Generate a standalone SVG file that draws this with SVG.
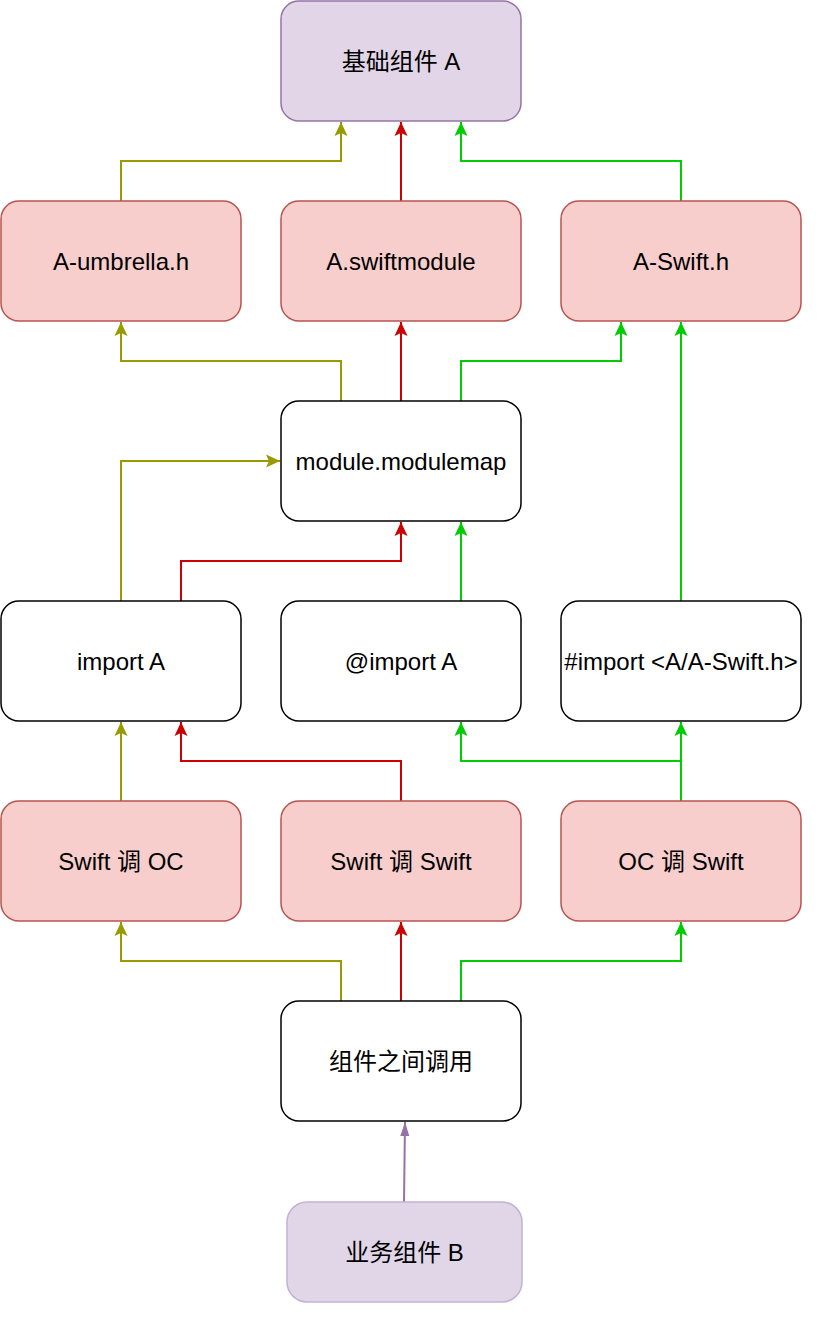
<svg xmlns="http://www.w3.org/2000/svg" width="829" height="1322" viewBox="0 0 829 1322">
<style>
  .txt { font-family: "Liberation Sans", "Noto Sans CJK SC", Arial, sans-serif; font-size: 24px; fill: #000; text-anchor: middle; }
  .purple { fill: #e1d5e7; stroke: #9673a6; stroke-width: 1.5; }
  .purple2 { fill: #e0d6e8; stroke: #c2b2d3; stroke-width: 1.5; }
  .red { fill: #f8cecc; stroke: #b85450; stroke-width: 1.5; }
  .white { fill: #ffffff; stroke: #000000; stroke-width: 1.5; }
  .c { fill: none; stroke-width: 2; }
  .olive { stroke: #999900; }
  .redl { stroke: #cc0000; }
  .green { stroke: #00cc00; }
</style>
<defs>
  <marker id="mOlive" markerUnits="userSpaceOnUse" viewBox="-15 -8 16 16" markerWidth="16" markerHeight="16" refX="0" refY="0" orient="auto">
    <path d="M0,0 L-14,-6.5 L-11,0 L-14,6.5 Z" fill="#999900"/>
  </marker>
  <marker id="mRed" markerUnits="userSpaceOnUse" viewBox="-15 -8 16 16" markerWidth="16" markerHeight="16" refX="0" refY="0" orient="auto">
    <path d="M0,0 L-14,-6.5 L-11,0 L-14,6.5 Z" fill="#cc0000"/>
  </marker>
  <marker id="mGreen" markerUnits="userSpaceOnUse" viewBox="-15 -8 16 16" markerWidth="16" markerHeight="16" refX="0" refY="0" orient="auto">
    <path d="M0,0 L-14,-6.5 L-11,0 L-14,6.5 Z" fill="#00cc00"/>
  </marker>
  <marker id="mPurple" markerUnits="userSpaceOnUse" viewBox="-15 -8 16 16" markerWidth="16" markerHeight="16" refX="0" refY="0" orient="auto">
    <path d="M0,0 L-14,-4.5 L-14,4.5 Z" fill="#9673a6"/>
  </marker>
</defs>

<g id="connectors">
  <path class="c olive" d="M121,201 V161 H341 V122" marker-end="url(#mOlive)"/>
  <path class="c olive" d="M341,401 V361 H121 V322" marker-end="url(#mOlive)"/>
  <path class="c olive" d="M121,601 V461 H280" marker-end="url(#mOlive)"/>
  <path class="c olive" d="M121,801 V722" marker-end="url(#mOlive)"/>
  <path class="c olive" d="M341,1001 V961 H121 V922" marker-end="url(#mOlive)"/>

  <path class="c redl" d="M401,201 V122" marker-end="url(#mRed)"/>
  <path class="c redl" d="M401,401 V322" marker-end="url(#mRed)"/>
  <path class="c redl" d="M181,601 V561 H401 V522" marker-end="url(#mRed)"/>
  <path class="c redl" d="M401,801 V761 H181 V722" marker-end="url(#mRed)"/>
  <path class="c redl" d="M401,1001 V922" marker-end="url(#mRed)"/>

  <path class="c green" d="M681,201 V161 H461 V122" marker-end="url(#mGreen)"/>
  <path class="c green" d="M461,401 V361 H621 V322" marker-end="url(#mGreen)"/>
  <path class="c green" d="M461,601 V522" marker-end="url(#mGreen)"/>
  <path class="c green" d="M681,601 V322" marker-end="url(#mGreen)"/>
  <path class="c green" d="M681,801 V761 H461 V722" marker-end="url(#mGreen)"/>
  <path class="c green" d="M681,801 V722" marker-end="url(#mGreen)"/>
  <path class="c green" d="M461,1001 V961 H681 V922" marker-end="url(#mGreen)"/>

  <path class="c" stroke="#9673a6" stroke-width="2.5" d="M404,1202 L405,1122" marker-end="url(#mPurple)"/>
</g>

<g id="node-a">
  <rect class="purple" x="281" y="1" width="240" height="120" rx="18"/>
  <text class="txt" x="401" y="69.5">基础组件 A</text>
</g>
<g id="node-umbrella">
  <rect class="red" x="1" y="201" width="240" height="120" rx="18"/>
  <text class="txt" x="121" y="269.5">A-umbrella.h</text>
</g>
<g id="node-swiftmodule">
  <rect class="red" x="281" y="201" width="240" height="120" rx="18"/>
  <text class="txt" x="401" y="269.5">A.swiftmodule</text>
</g>
<g id="node-swifth">
  <rect class="red" x="561" y="201" width="240" height="120" rx="18"/>
  <text class="txt" x="681" y="269.5">A-Swift.h</text>
</g>
<g id="node-modulemap">
  <rect class="white" x="281" y="401" width="240" height="120" rx="18"/>
  <text class="txt" x="401" y="469.5">module.modulemap</text>
</g>
<g id="node-importa">
  <rect class="white" x="1" y="601" width="240" height="120" rx="18"/>
  <text class="txt" x="121" y="669.5">import A</text>
</g>
<g id="node-atimporta">
  <rect class="white" x="281" y="601" width="240" height="120" rx="18"/>
  <text class="txt" x="401" y="669.5">@import A</text>
</g>
<g id="node-hashimport">
  <rect class="white" x="561" y="601" width="240" height="120" rx="18"/>
  <text class="txt" x="681" y="669.5">#import &lt;A/A-Swift.h&gt;</text>
</g>
<g id="node-swift-oc">
  <rect class="red" x="1" y="801" width="240" height="120" rx="18"/>
  <text class="txt" x="121" y="869.5">Swift 调 OC</text>
</g>
<g id="node-swift-swift">
  <rect class="red" x="281" y="801" width="240" height="120" rx="18"/>
  <text class="txt" x="401" y="869.5">Swift 调 Swift</text>
</g>
<g id="node-oc-swift">
  <rect class="red" x="561" y="801" width="240" height="120" rx="18"/>
  <text class="txt" x="681" y="869.5">OC 调 Swift</text>
</g>
<g id="node-call">
  <rect class="white" x="281" y="1001" width="240" height="120" rx="18"/>
  <text class="txt" x="401" y="1069.5">组件之间调用</text>
</g>
<g id="node-b">
  <rect class="purple2" x="287" y="1202" width="235" height="100" rx="20"/>
  <text class="txt" x="404.5" y="1260.5">业务组件 B</text>
</g>
</svg>
